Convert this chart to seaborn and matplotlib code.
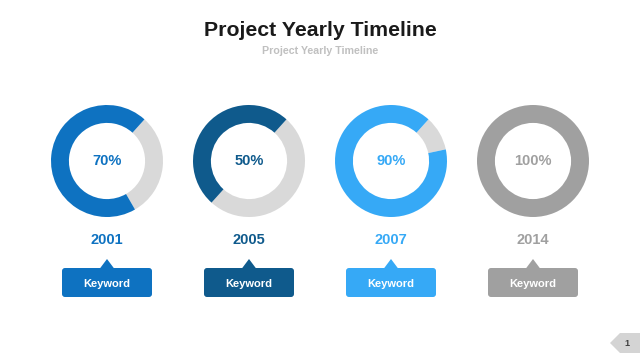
import matplotlib
matplotlib.use('Agg')
import matplotlib.pyplot as plt
import seaborn as sns
from matplotlib.patches import FancyBboxPatch, Polygon

# chart data
years = ['2001', '2005', '2007', '2014']
percents = [70, 50, 90, 100]
keywords = ['Keyword', 'Keyword', 'Keyword', 'Keyword']
title = 'Project Yearly Timeline'
subtitle = 'Project Yearly Timeline'
page_no = '1'

palette = sns.color_palette(['#0e72c1', '#0f5a8c', '#36a9f6', '#a0a0a0'])
rest_color = '#d9d9d9'

sns.set_theme(style='white')
plt.rcParams['font.family'] = ['Liberation Sans', 'DejaVu Sans']

W, H = 640, 360
fig = plt.figure(figsize=(W / 100, H / 100), dpi=100)
fig.patch.set_facecolor('white')

# overlay axes in pixel coordinates (y downwards)
ax = fig.add_axes([0, 0, 1, 1])
ax.set_xlim(0, W)
ax.set_ylim(H, 0)
ax.axis('off')

ax.text(W / 2, 31, title, ha='center', va='center', fontsize=15.3,
        fontweight='bold', color='#1a1a1a')
ax.text(W / 2, 51, subtitle, ha='center', va='center', fontsize=7.7,
        fontweight='bold', color='#c0c0c0')

x0, step, cy, r_out = 107, 142, 161, 56
for i, (year, pct, kw) in enumerate(zip(years, percents, keywords)):
    cx = x0 + i * step
    col = palette[i]

    dax = fig.add_axes([(cx - r_out) / W, 1 - (cy + r_out) / H,
                        2 * r_out / W, 2 * r_out / H])
    vals = [100 - pct, pct]
    dax.pie(vals, colors=[rest_color, col], startangle=48, counterclock=False,
            radius=1, wedgeprops=dict(width=0.32, linewidth=0))
    dax.set_xlim(-1, 1)
    dax.set_ylim(-1, 1)
    dax.set_aspect('equal')
    dax.axis('off')

    ax.text(cx, cy, f'{pct}%', ha='center', va='center', fontsize=10.5,
            fontweight='bold', color=col, zorder=5)
    ax.text(cx, 240, year, ha='center', va='center', fontsize=10.5,
            fontweight='bold', color=col)

    # callout box with notch
    bw, by0, by1 = 90, 268, 297
    box = FancyBboxPatch((cx - bw / 2, by0), bw, by1 - by0,
                         boxstyle='round,pad=0,rounding_size=3',
                         facecolor=col, edgecolor='none')
    ax.add_patch(box)
    ax.add_patch(Polygon([(cx - 7.5, by0 + 1), (cx, 259), (cx + 7.5, by0 + 1)],
                         closed=True, facecolor=col, edgecolor='none'))
    ax.text(cx, 284, kw, ha='center', va='center', fontsize=8,
            fontweight='bold', color='white')

# page number tag
ax.add_patch(Polygon([(610, 343), (620, 333), (640, 333), (640, 353), (620, 353)],
                     closed=True, facecolor='#d4d4d4', edgecolor='none'))
ax.text(627, 343, page_no, ha='center', va='center', fontsize=6.5,
        fontweight='bold', color='#404040')

fig.savefig('out.png', dpi=100, facecolor='white')
